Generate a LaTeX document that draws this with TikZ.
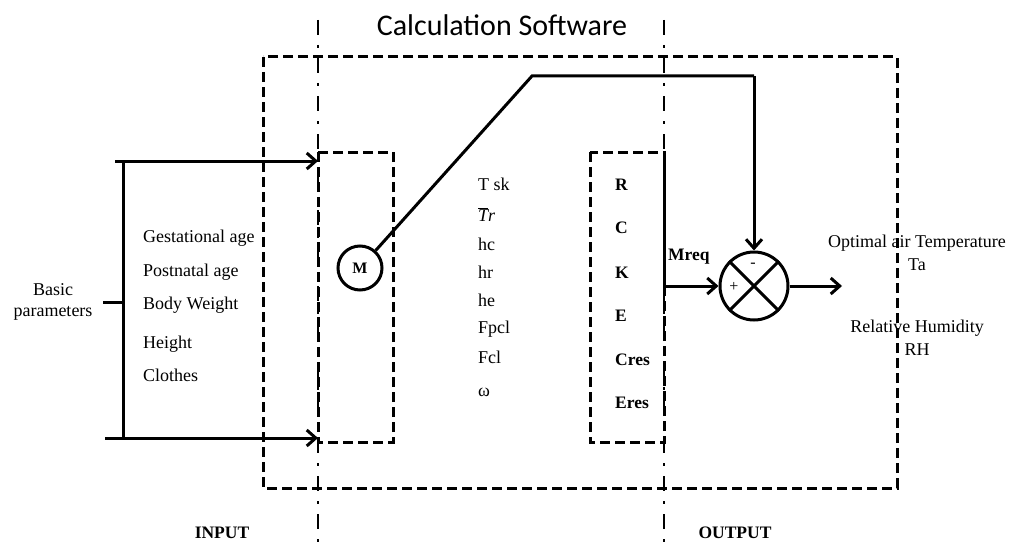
\documentclass[tikz,border=0pt]{standalone}
\usepackage{fontspec}
\setmainfont{Liberation Serif}
\newfontfamily\titlefont{Carlito}
\usetikzlibrary{arrows.meta}
\begin{document}
\begin{tikzpicture}[x=1pt,y=-1pt,
  txt/.style={font=\fontsize{18}{21}\selectfont, inner sep=0pt, text height=0.68em, text depth=0.0em},
  ltxt/.style={txt, anchor=west},
  btxt/.style={ltxt, font=\fontsize{17.5}{20}\selectfont\bfseries},
  solidline/.style={line width=3pt},
  arr/.style={solidline, -{Straight Barb[length=9pt,width=16pt,line width=3pt]}},
  dashbox/.style={line width=3pt, dash pattern=on 10pt off 5pt},
  dashdot/.style={line width=2.8pt, dash pattern=on 15pt off 10pt on 3pt off 10pt},
  ring/.style={circle, draw, line width=3pt, inner sep=0pt},
]
\path[fill=white] (0,0) rectangle (1012,543);
\useasboundingbox (0,0) rectangle (1012,543);

% title
\node[font=\titlefont\fontsize{30}{34}\selectfont, inner sep=0pt] (title) at (502,25) {Calculation Software};

% dash-dot separators
\draw[dashdot] (318,20) -- (318,543);
\draw[dashdot] (664,20) -- (664,543);

% big dashed box
\draw[dashbox] (263,57) rectangle (897,488);

% inner dashed boxes
\draw[dashbox] (318,152) rectangle (393,442);
\draw[dashbox] (590,152) rectangle (664,442);

% input bracket
\coordinate (bt0) at (115,161);
\coordinate (bt1) at (318,161);
\coordinate (bb0) at (105,438);
\coordinate (bb1) at (318,438);
\coordinate (bv0) at (123,161);
\coordinate (bv1) at (123,438);
\coordinate (tk0) at (103,302);
\coordinate (tk1) at (123,302);
\draw[arr] (bt0) -- (bt1);
\draw[arr] (bb0) -- (bb1);
\draw[solidline] (bv0) -- (bv1);
\draw[solidline] (tk0) -- (tk1);

\node[txt, align=center, text height=, text depth=] (basic) at (53,302) {Basic\\parameters};

\node[ltxt] (ga) at (143,239) {Gestational age};
\node[ltxt] (pa) at (143,273) {Postnatal age};
\node[ltxt] (bw) at (143,306) {Body Weight};
\node[ltxt] (ht) at (143,345) {Height};
\node[ltxt] (cl) at (143,378) {Clothes};

% M circle
\node[ring, minimum size=44pt, font=\fontsize{16}{18}\selectfont\bfseries] (M) at (360,268) {M};

% middle variables
\node[ltxt] (tsk) at (478,187) {T sk};
\node[ltxt] (tr) at (478,218) {$\overline{\textit{T}}\textit{r}$};
\node[ltxt] (hc) at (478,247) {hc};
\node[ltxt] (hr) at (478,275) {hr};
\node[ltxt] (he) at (478,303) {he};
\node[ltxt] (fpcl) at (478,330) {Fpcl};
\node[ltxt] (fcl) at (478,360) {Fcl};
\node[ltxt] (om) at (478,393) {ω};

% right box variables
\node[btxt] (r) at (615,187) {R};
\node[btxt] (c) at (615,230) {C};
\node[btxt] (k) at (615,275) {K};
\node[btxt] (e) at (615,318) {E};
\node[btxt] (cres) at (615,362) {Cres};
\node[btxt] (eres) at (615,405) {Eres};

% summing junction
\node[ring, minimum size=68pt] (S) at (754,286) {};
\draw[solidline] (S.north west) -- (S.south east);
\draw[solidline] (S.north east) -- (S.south west);
\node[font=\fontsize{16}{18}\selectfont, inner sep=0pt] (minus) at (753,265) {-};
\node[font=\fontsize{16}{18}\selectfont, inner sep=0pt] (plus) at (734,287) {+};

% M feedback path
\coordinate (k1) at (532,76);
\coordinate (k2) at (754,76);
\draw[solidline, line join=miter] (M) -- (k1) -- (k2);
\draw[arr] (k2) -- (S.north);

% Mreq path
\coordinate (mq) at (664,151);
\draw[arr] (mq) |- (S.west);
\node[btxt] (mreq) at (668,257) {Mreq};

% output
\coordinate (out) at (842,286);
\draw[arr] (S.east) -- (out);

\node[txt, text height=, text depth=] (oat) at (917,243) {Optimal air Temperature};
\node[txt, text height=, text depth=] (ta) at (917,265) {Ta};
\node[txt, text height=, text depth=] (rh1) at (917,328) {Relative Humidity};
\node[txt, text height=, text depth=] (rh2) at (917,350) {RH};

% bottom labels
\node[font=\fontsize{17.5}{20}\selectfont\bfseries, inner sep=0pt] (input) at (222,533) {INPUT};
\node[font=\fontsize{17.5}{20}\selectfont\bfseries, inner sep=0pt] (output) at (735,533) {OUTPUT};
\end{tikzpicture}
\end{document}
